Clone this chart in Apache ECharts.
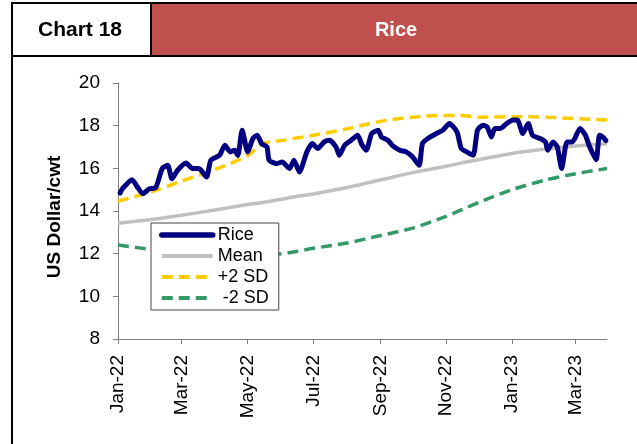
<!DOCTYPE html>
<html>
<head>
<meta charset="utf-8">
<script src="https://cdn.jsdelivr.net/npm/echarts@6/dist/echarts.min.js"></script>
<style>
  html, body { margin: 0; padding: 0; background: #fff; }
  #chart { width: 637px; height: 444px; }
</style>
</head>
<body>
<div id="chart"></div>
<script>
// rice price, US$/cwt
var riceDates = ['2022-01-03','2022-01-05','2022-01-14','2022-01-19','2022-01-24','2022-01-30','2022-02-05','2022-02-11','2022-02-16','2022-02-20',
    '2022-02-25','2022-03-05','2022-03-11','2022-03-17','2022-03-24','2022-03-28','2022-04-05','2022-04-10','2022-04-15','2022-04-19',
    '2022-04-22','2022-04-26','2022-04-28','2022-05-01','2022-05-06','2022-05-10','2022-05-14','2022-05-19','2022-05-21','2022-05-28',
    '2022-06-02','2022-06-09','2022-06-13','2022-06-18','2022-06-25','2022-06-30','2022-07-05','2022-07-11','2022-07-16','2022-07-22',
    '2022-07-25','2022-07-30','2022-08-05','2022-08-11','2022-08-15','2022-08-19','2022-08-24','2022-08-30','2022-09-02','2022-09-08',
    '2022-09-12','2022-09-19','2022-09-25','2022-10-01','2022-10-07','2022-10-10','2022-10-15','2022-10-23','2022-10-29','2022-11-04',
    '2022-11-11','2022-11-15','2022-11-20','2022-11-26','2022-11-30','2022-12-05','2022-12-09','2022-12-13','2022-12-16','2022-12-21',
    '2022-12-27','2023-01-02','2023-01-06','2023-01-11','2023-01-16','2023-01-20','2023-01-27','2023-02-01','2023-02-03','2023-02-08',
    '2023-02-12','2023-02-16','2023-02-21','2023-02-26','2023-03-05','2023-03-10','2023-03-14','2023-03-20','2023-03-23','2023-03-26',
    '2023-03-29'];
var riceValues = [14.85, 15.04, 15.47, 15.12, 14.81, 15.04, 15.1, 15.99, 16.14, 15.51,
    15.9, 16.25, 15.99, 15.99, 15.59, 16.38, 16.61, 17.08, 16.77, 16.85,
    16.6, 17.79, 17.4, 16.77, 17.4, 17.55, 17.16, 17.0, 16.38, 16.22,
    16.3, 15.99, 16.38, 15.83, 16.77, 17.16, 16.93, 17.24, 17.32, 17.0,
    16.61, 17.08, 17.32, 17.55, 17.1, 16.85, 17.63, 17.79, 17.47, 17.32,
    17.08, 16.85, 16.77, 16.53, 16.14, 17.16, 17.4, 17.63, 17.79, 18.1,
    17.71, 16.93, 16.77, 16.61, 17.79, 18.02, 17.94, 17.47, 17.87, 17.87,
    18.1, 18.26, 18.26, 17.63, 18.1, 17.55, 17.4, 17.24, 16.85, 17.24,
    17.0, 15.99, 17.24, 17.24, 17.87, 17.55, 17.0, 16.4, 17.55, 17.47,
    17.3];

var bandDates = ['2022-01-01','2022-02-01','2022-03-01','2022-04-01','2022-05-01','2022-05-15','2022-06-01','2022-06-15','2022-07-01','2022-08-01',
    '2022-09-01','2022-10-01','2022-11-01','2022-11-15','2022-12-01','2023-01-01','2023-02-01','2023-03-01','2023-03-30'];
var meanValues = [13.43, 13.6, 13.8, 14.05, 14.3, 14.4, 14.55, 14.68, 14.8, 15.1,
    15.45, 15.8, 16.1, 16.25, 16.4, 16.7, 16.9, 17.05, 17.15];
var upperValues = [14.46, 14.9, 15.4, 15.95, 16.6, 17.15, 17.3, 17.42, 17.55, 17.85,
    18.2, 18.4, 18.48, 18.48, 18.4, 18.42, 18.4, 18.33, 18.26];
var lowerValues = [12.41, 12.2, 12.12, 12.06, 12.0, 11.98, 12.0, 12.1, 12.25, 12.5,
    12.85, 13.2, 13.75, 14.05, 14.4, 15.0, 15.45, 15.75, 15.99];

var tickDates = ['2022-01-01','2022-03-01','2022-05-01','2022-07-01','2022-09-01','2022-11-01','2023-01-01','2023-03-01'];
var monthNames = ['Jan','Feb','Mar','Apr','May','Jun','Jul','Aug','Sep','Oct','Nov','Dec'];
var xMin = '2022-01-01';
var xMax = '2023-03-30';

var font = 'Liberation Sans, Arial, sans-serif';

function ts(s) { // 'yyyy-mm-dd' -> timestamp
    var p = s.split('-');
    return Date.UTC(+p[0], +p[1] - 1, +p[2]);
}

function pairs(dates, values) {
    return dates.map(function (d, i) { return [ts(d), values[i]]; });
}

var tickValues = tickDates.map(ts);

var chart = echarts.init(document.getElementById('chart'));

var option = {
    backgroundColor: '#fff',
    animation: false,
    textStyle: {fontFamily: font},
    graphic: [
        {type: 'rect', shape: {x: 151, y: 3, width: 490, height: 53}, style: {fill: '#c0504d'}, z: 1},
        {type: 'line', shape: {x1: 12, y1: 3, x2: 640, y2: 3}, style: {stroke: '#000', lineWidth: 2}, z: 2},
        {type: 'line', shape: {x1: 12, y1: 56, x2: 640, y2: 56}, style: {stroke: '#000', lineWidth: 2}, z: 2},
        {type: 'line', shape: {x1: 12, y1: 2, x2: 12, y2: 446}, style: {stroke: '#000', lineWidth: 2}, z: 2},
        {type: 'line', shape: {x1: 151, y1: 3, x2: 151, y2: 56}, style: {stroke: '#000', lineWidth: 2}, z: 2},
        {type: 'text', x: 80, y: 30, z: 3, style: {text: 'Chart 18', fill: '#000', font: 'bold 21px ' + font, align: 'center', verticalAlign: 'middle'}},
        {type: 'text', x: 396, y: 30, z: 3, style: {text: 'Rice', fill: '#fff', font: 'bold 20px ' + font, align: 'center', verticalAlign: 'middle'}}
    ],
    grid: {left: 118, right: 30, top: 83, bottom: 105, outerBoundsMode: 'none'},
    legend: {
        left: 151,
        top: 223,
        orient: 'vertical',
        itemWidth: 51,
        itemHeight: 14,
        itemGap: 3,
        padding: [3, 10, 3, 8],
        backgroundColor: '#fff',
        borderColor: '#444',
        borderWidth: 1,
        borderRadius: 0,
        itemStyle: {opacity: 0},
        lineStyle: {width: 4},
        textStyle: {fontSize: 18, color: '#000', fontFamily: font, lineHeight: 18},
        data: [
            {name: 'Rice', lineStyle: {width: 5.5}},
            {name: 'Mean'},
            {name: '+2 SD'},
            {name: ' -2 SD'}
        ]
    },
    xAxis: {
        type: 'value',
        min: ts(xMin),
        max: ts(xMax),
        axisLine: {lineStyle: {color: '#808080', width: 1}},
        axisTick: {show: true, customValues: tickValues, length: 5, lineStyle: {color: '#808080'}},
        axisLabel: {
            customValues: tickValues,
            rotate: 90,
            margin: 16,
            fontSize: 19,
            color: '#000',
            fontFamily: font,
            formatter: function (v) {
                var d = new Date(v);
                return monthNames[d.getUTCMonth()] + '-' + String(d.getUTCFullYear()).slice(2);
            }
        },
        splitLine: {show: false}
    },
    yAxis: {
        type: 'value',
        min: 8,
        max: 20,
        interval: 2,
        name: 'US Dollar/cwt',
        nameLocation: 'middle',
        nameGap: 54,
        nameTextStyle: {fontSize: 19, fontWeight: 'bold', color: '#000', fontFamily: font, padding: [0, 12, 0, 0]},
        axisLine: {show: true, lineStyle: {color: '#808080', width: 1}},
        axisTick: {show: true, length: 5, lineStyle: {color: '#808080'}},
        axisLabel: {fontSize: 19, color: '#000', margin: 18, fontFamily: font},
        splitLine: {show: false}
    },
    series: [
        {
            name: 'Mean', type: 'line', symbol: 'none', z: 2, smooth: 0.3,
            lineStyle: {color: '#c0c0c0', width: 3.5},
            itemStyle: {color: '#c0c0c0'},
            data: pairs(bandDates, meanValues)
        },
        {
            name: '+2 SD', type: 'line', symbol: 'none', z: 2, smooth: 0.3,
            lineStyle: {color: '#ffcc00', width: 3.5, type: [11, 6]},
            itemStyle: {color: '#ffcc00'},
            data: pairs(bandDates, upperValues)
        },
        {
            name: ' -2 SD', type: 'line', symbol: 'none', z: 2, smooth: 0.3,
            lineStyle: {color: '#339966', width: 3.5, type: [11, 6]},
            itemStyle: {color: '#339966'},
            data: pairs(bandDates, lowerValues)
        },
        {
            name: 'Rice', type: 'line', symbol: 'none', z: 3, smooth: 0.2,
            lineStyle: {color: '#000080', width: 5, join: 'round', cap: 'round'},
            itemStyle: {color: '#000080'},
            data: pairs(riceDates, riceValues)
        }
    ]
};

chart.setOption(option);
</script>
</body>
</html>
